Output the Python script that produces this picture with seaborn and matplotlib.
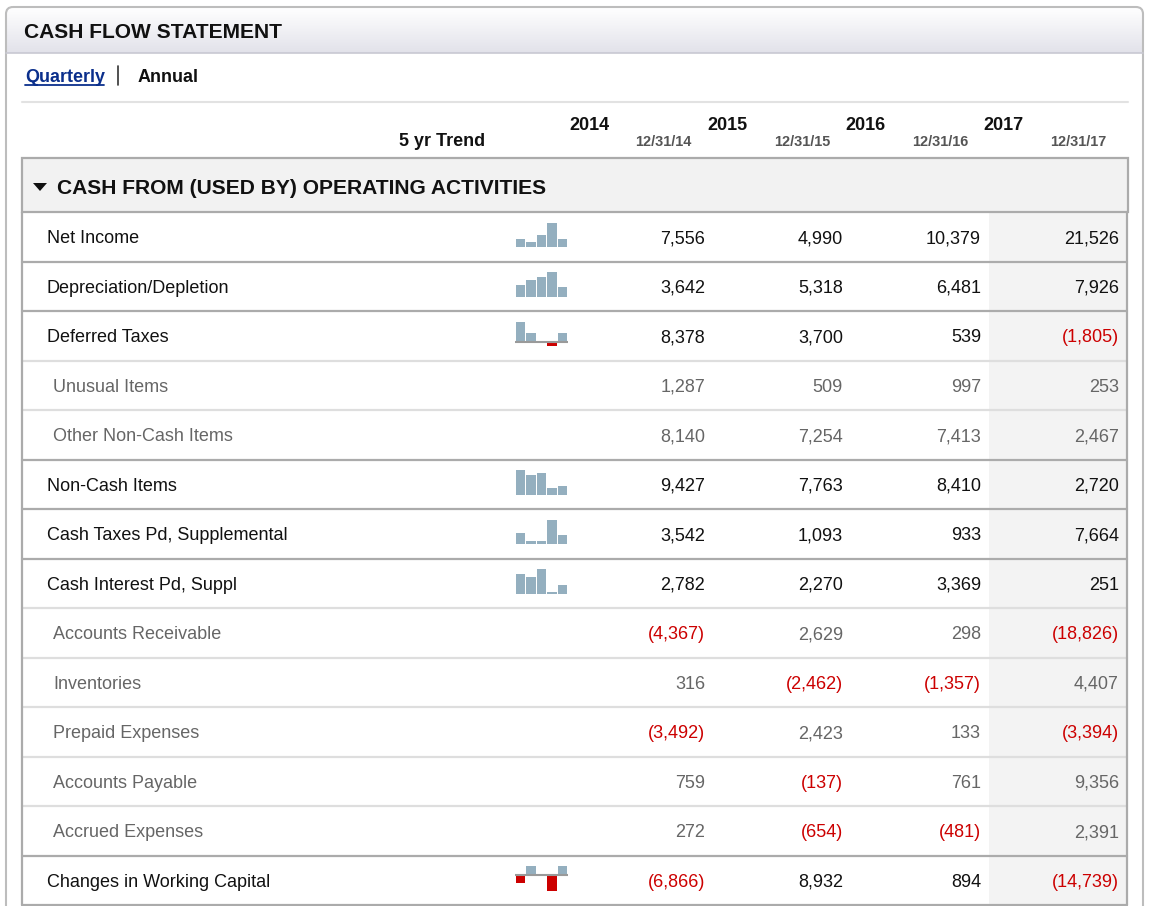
import numpy as np
import pandas as pd
import matplotlib
matplotlib.use("Agg")
import matplotlib.pyplot as plt
import seaborn as sns
from matplotlib.patches import Rectangle, FancyBboxPatch, Polygon
from matplotlib.colors import LinearSegmentedColormap

sns.set_theme(style="white")
plt.rcParams["font.family"] = ["Liberation Sans", "DejaVu Sans"]

# ---------------- data ----------------
title = "CASH FLOW STATEMENT"
section = "CASH FROM (USED BY) OPERATING ACTIVITIES"
years = ["2014", "2015", "2016", "2017"]
dates = ["12/31/14", "12/31/15", "12/31/16", "12/31/17"]
row_labels = ["Net Income", "Depreciation/Depletion", "Deferred Taxes", "Unusual Items",
              "Other Non-Cash Items", "Non-Cash Items", "Cash Taxes Pd, Supplemental",
              "Cash Interest Pd, Suppl", "Accounts Receivable", "Inventories",
              "Prepaid Expenses", "Accounts Payable", "Accrued Expenses",
              "Changes in Working Capital"]
is_main = [True, True, True, False, False, True, True, True,
           False, False, False, False, False, True]
v2014 = [7556, 3642, 8378, 1287, 8140, 9427, 3542, 2782, -4367, 316, -3492, 759, 272, -6866]
v2015 = [4990, 5318, 3700, 509, 7254, 7763, 1093, 2270, 2629, -2462, 2423, -137, -654, 8932]
v2016 = [10379, 6481, 539, 997, 7413, 8410, 933, 3369, 298, -1357, 133, 761, -481, 894]
v2017 = [21526, 7926, -1805, 253, 2467, 2720, 7664, 251, -18826, 4407, -3394, 9356, 2391, -14739]
# fifth bar of the 5 yr trend sparkline; None = no sparkline
trend_extra = [7600, 3000, 3650, None, None, 3500, 2900, 1250,
               None, None, None, None, None, 8700]

# ---------------- styling ----------------
W, H = 1150, 906
BAR_BLUE = "#94afbf"
RED = "#cc0000"
DARK_LINE = "#ababab"
LIGHT_LINE = "#dedede"
SUB_GRAY = "#666666"

fig = plt.figure(figsize=(W / 100, H / 100), dpi=100)
ax = fig.add_axes([0, 0, 1, 1])
ax.set_xlim(0, W)
ax.set_ylim(H, 0)
ax.axis("off")

PX = 0.72  # px -> pt at 100 dpi

# outer panel
panel = FancyBboxPatch((6, 7), 1137, 960, boxstyle="round,pad=0,rounding_size=7",
                       fc="white", ec="none", zorder=0)
ax.add_patch(panel)
grad = np.linspace(0, 1, 64).reshape(-1, 1)
cmap = LinearSegmentedColormap.from_list("tb", ["#ffffff", "#e2e2ea"])
im = ax.imshow(grad, extent=[6, 1143, 53, 7], aspect="auto", cmap=cmap, zorder=1)
im.set_clip_path(panel)
ax.add_patch(FancyBboxPatch((6, 7), 1137, 960, boxstyle="round,pad=0,rounding_size=7",
                            fc="none", ec="#bdbdbd", lw=1.5, zorder=5))
ax.plot([6, 1143], [53, 53], color="#c8c8d2", lw=1.2, zorder=5)

ax.text(24, 37.5, title, fontsize=21 * PX, fontweight="bold", color="#111111", zorder=6)

# Quarterly | Annual
ax.text(25, 82.5, "Quarterly", fontsize=18 * PX, fontweight="bold", color="#0b2f8c", zorder=6)
ax.plot([25, 104], [85, 85], color="#0b2f8c", lw=1.3, zorder=6)
ax.plot([118, 118], [66, 85], color="#333333", lw=1.2, zorder=6)
ax.text(138, 82.5, "Annual", fontsize=18 * PX, fontweight="bold", color="#111111", zorder=6)
ax.plot([22, 1128], [102, 102], color="#e2e2e2", lw=1.5, zorder=2)

# column header
ax.text(485, 146.5, "5 yr Trend", fontsize=18 * PX, fontweight="bold",
        ha="right", color="#111111", zorder=6)
for j, (yr, dt) in enumerate(zip(years, dates)):
    ax.text(609 + 138 * j, 129.5, yr, fontsize=18 * PX, fontweight="bold",
            ha="right", color="#111111", zorder=6)
    ax.text(692 + 138 * j, 145.5, dt, fontsize=14.5 * PX, fontweight="bold",
            ha="right", color="#555555", zorder=6)

# section header box
ax.add_patch(Rectangle((22, 158), 1106, 54, fc="#f2f2f2", ec=DARK_LINE, lw=1.6, zorder=3))
ax.add_patch(Polygon([[33, 183], [47, 183], [40, 191]], closed=True, fc="#111111",
                     ec="none", zorder=6))
ax.text(57, 193.5, section, fontsize=21 * PX, fontweight="bold", color="#111111", zorder=6)

# table body
ROW_TOP = 212
ROW_H = 49.5
n = len(row_labels)
bottom = ROW_TOP + n * ROW_H
ax.add_patch(Rectangle((989, ROW_TOP), 1127 - 989, bottom - ROW_TOP, fc="#f3f3f3",
                       ec="none", zorder=2))
for i in range(1, n):
    y = ROW_TOP + i * ROW_H
    ax.plot([22, 1127], [y, y], color=DARK_LINE if is_main[i] else LIGHT_LINE,
            lw=1.6, zorder=4)
ax.plot([22, 1127], [bottom, bottom], color=DARK_LINE, lw=1.6, zorder=4)
ax.plot([22, 22], [ROW_TOP, bottom], color=DARK_LINE, lw=1.6, zorder=4)
ax.plot([1127, 1127], [ROW_TOP, bottom], color=DARK_LINE, lw=1.6, zorder=4)


def fmt(v):
    return f"({abs(v):,})" if v < 0 else f"{v:,}"


cols = [v2014, v2015, v2016, v2017]
for i, lab in enumerate(row_labels):
    c = ROW_TOP + (i + 0.5) * ROW_H
    base = c + 6.5
    main = is_main[i]
    ax.text(47 if main else 53, base, lab, fontsize=18 * PX,
            color="#111111" if main else SUB_GRAY, zorder=6)
    for j, col in enumerate(cols):
        v = col[i]
        colr = RED if v < 0 else ("#111111" if main else SUB_GRAY)
        ax.text(705 + 138 * j, base, fmt(v), fontsize=18 * PX, ha="right",
                color=colr, zorder=6)

    # sparkline
    if trend_extra[i] is not None:
        vals = [v2014[i], v2015[i], v2016[i], v2017[i], trend_extra[i]]
        df = pd.DataFrame({"pos": [str(k) for k in range(5)], "val": vals})
        colors = [RED if v < 0 else BAR_BLUE for v in vals]
        top_px, bot_px = c - 14, c + 10.5
        left_px, w_px = 515.25, 52.5
        iax = fig.add_axes([left_px / W, 1 - bot_px / H, w_px / W, (bot_px - top_px) / H])
        iax.patch.set_alpha(0)
        sns.barplot(data=df, x="pos", y="val", hue="pos", palette=colors, width=0.86,
                    dodge=False, legend=False, errorbar=None, saturation=1,
                    linewidth=0, edgecolor="none", ax=iax)
        lo = min(0, min(vals))
        hi = max(vals)
        iax.set_xlim(-0.5, 4.5)
        iax.set_ylim(lo, hi)
        if lo < 0:
            iax.axhline(0, color="#9a9a9a", lw=1.5)
        iax.axis("off")

fig.savefig("out.png", dpi=100)
